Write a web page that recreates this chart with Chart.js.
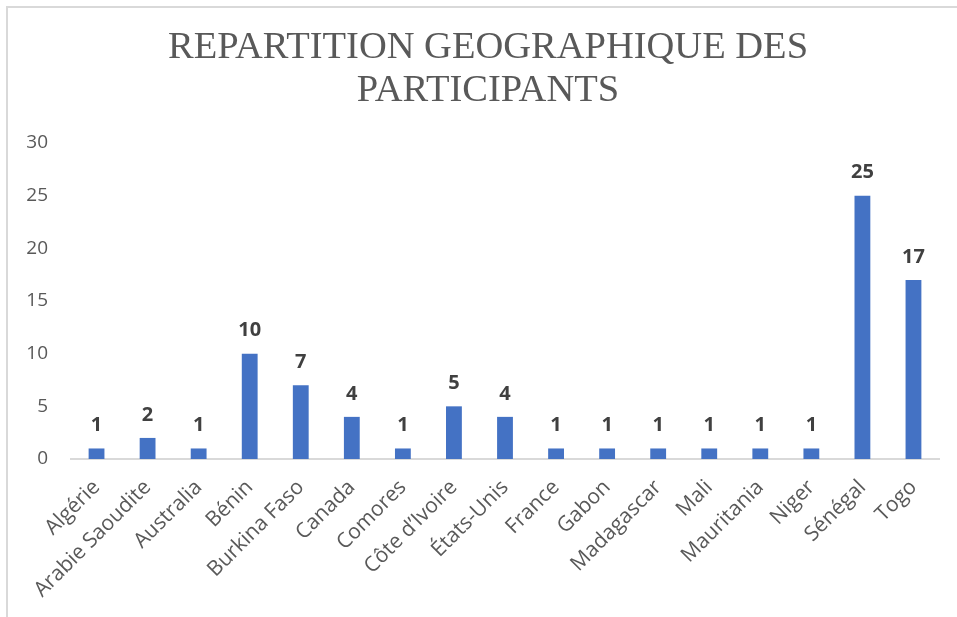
<!DOCTYPE html>
<html>
<head>
<meta charset="utf-8">
<script src="https://cdn.jsdelivr.net/npm/chart.js@4"></script>
<style>
  html, body { margin: 0; padding: 0; background: #ffffff; }
  #wrap { width: 957px; height: 617px; position: relative; }
</style>
</head>
<body>
<div id="wrap"><canvas id="c" width="957" height="617"></canvas></div>
<script>
const titleLines = ["REPARTITION GEOGRAPHIQUE DES", "PARTICIPANTS"];
const categories = ["Algérie", "Arabie Saoudite", "Australia", "Bénin", "Burkina Faso", "Canada", "Comores", "Côte d’Ivoire", "États-Unis", "France", "Gabon", "Madagascar", "Mali", "Mauritania", "Niger", "Sénégal", "Togo"];
const participants = [1, 2, 1, 10, 7, 4, 1, 5, 4, 1, 1, 1, 1, 1, 1, 25, 17];
const yTicks = [0, 5, 10, 15, 20, 25, 30];

const frame = {
  id: 'frame',
  beforeDraw(chart) {
    const ctx = chart.ctx;
    ctx.save();
    ctx.fillStyle = '#ffffff';
    ctx.fillRect(0, 0, chart.width, chart.height);
    ctx.fillStyle = '#d9d9d9';
    ctx.fillRect(6, 6, chart.width, 2);
    ctx.fillRect(6, 6, 2, chart.height);
    ctx.restore();
  }
};

const chartTitle = {
  id: 'chartTitle',
  afterDraw(chart) {
    const ctx = chart.ctx;
    ctx.save();
    ctx.font = '38.5px "Liberation Serif"';
    ctx.fillStyle = '#595959';
    ctx.textAlign = 'center';
    ctx.textBaseline = 'middle';
    titleLines.forEach((line, i) => {
      ctx.fillText(line, 488, 47.6 + i * 43.1);
    });
    ctx.restore();
  }
};

const valueLabels = {
  id: 'valueLabels',
  afterDatasetsDraw(chart) {
    const ctx = chart.ctx;
    const meta = chart.getDatasetMeta(0);
    const data = chart.data.datasets[0].data;
    ctx.save();
    ctx.font = 'bold 20px "Open Sans"';
    ctx.fillStyle = '#404040';
    ctx.textAlign = 'center';
    ctx.textBaseline = 'middle';
    meta.data.forEach((bar, i) => {
      ctx.fillText(String(data[i]), bar.x, bar.y - 23);
    });
    ctx.restore();
  }
};

new Chart(document.getElementById('c'), {
  type: 'bar',
  data: {
    labels: categories,
    datasets: [{
      data: participants,
      backgroundColor: '#4472C4',
      borderWidth: 0,
      barPercentage: 0.31,
      categoryPercentage: 1.0
    }]
  },
  options: {
    responsive: false,
    animation: false,
    devicePixelRatio: 1,
    layout: { padding: { top: 143, right: 18, bottom: 0, left: 0 } },
    plugins: {
      legend: { display: false },
      tooltip: { enabled: false },
      title: { display: false }
    },
    scales: {
      x: {
        grid: { display: false, drawTicks: false },
        border: { display: true, color: '#d9d9d9', width: 2 },
        ticks: {
          autoSkip: false,
          maxRotation: 45,
          minRotation: 45,
          padding: 16,
          color: '#595959',
          font: { family: '"Open Sans"', size: 21 }
        },
        afterFit(scale) { scale.height = 158; }
      },
      y: {
        min: 0,
        max: 30,
        grid: { display: false, drawTicks: false },
        border: { display: false },
        afterBuildTicks(scale) { scale.ticks = yTicks.map(v => ({ value: v })); },
        ticks: {
          padding: 23,
          color: '#595959',
          font: { family: '"Open Sans"', size: 19 }
        },
        afterFit(scale) { scale.width = 71; }
      }
    }
  },
  plugins: [frame, chartTitle, valueLabels]
});
</script>
</body>
</html>
